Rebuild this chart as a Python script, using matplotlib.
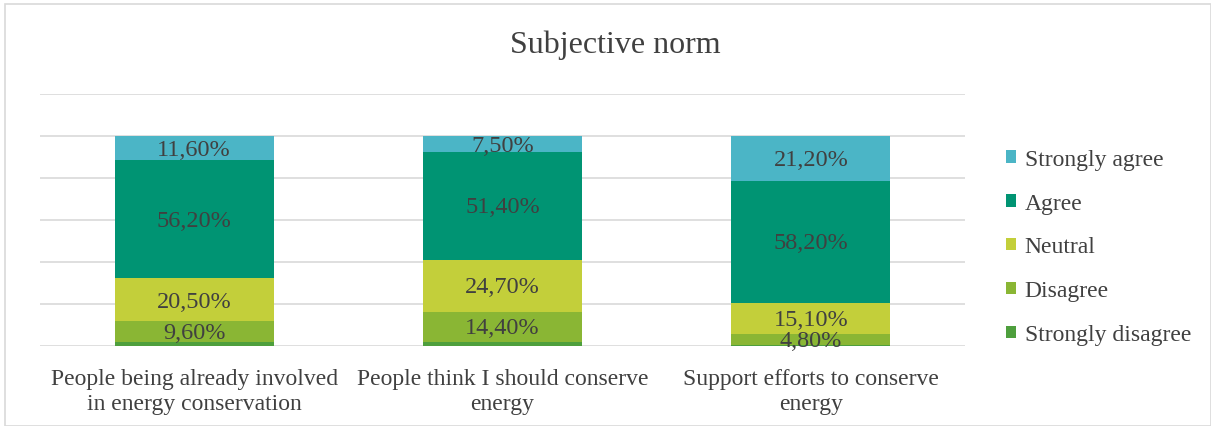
import matplotlib
matplotlib.use("Agg")
import matplotlib.pyplot as plt
from matplotlib.patches import Rectangle
import numpy as np

plt.rcParams['font.family'] = ['Liberation Serif', 'DejaVu Serif']

categories = ["People being already involved\nin energy conservation",
              "People think I should conserve\nenergy",
              "Support efforts to conserve\nenergy"]
series_names = ["Strongly disagree", "Disagree", "Neutral", "Agree", "Strongly agree"]
strongly_disagree = [2.1, 2.0, 0.7]
disagree = [9.6, 14.4, 4.8]
neutral = [20.5, 24.7, 15.1]
agree = [56.2, 51.4, 58.2]
strongly_agree = [11.6, 7.5, 21.2]
colors = ["#4E9F3D", "#8AB634", "#C3CF3A", "#009473", "#4BB5C6"]
show_labels = [False, True, True, True, True]

series = [strongly_disagree, disagree, neutral, agree, strongly_agree]

fig = plt.figure(figsize=(12.11, 4.27), dpi=100)
fig.patches.append(Rectangle((5 / 1211, 0), 1 - 5 / 1211, 1 - 5 / 427, transform=fig.transFigure,
                             fill=False, edgecolor="#D9D9D9", linewidth=1.2))
ax = fig.add_axes([40 / 1211, 1 - 347 / 427, 925 / 1211, 252 / 427])

x = np.arange(len(categories))
bottom = np.zeros(len(categories))
handles = []
for name, vals, col, lab in zip(series_names, series, colors, show_labels):
    vals = np.array(vals)
    bars = ax.bar(x, vals, 0.515, bottom=bottom, color=col, label=name, zorder=2)
    handles.append(bars)
    if lab:
        for xi, b, v in zip(x, bottom, vals):
            ax.text(xi, b + v / 2 - 0.6, f"{v:.2f}%".replace(".", ","), ha="center", va="center",
                    fontsize=17.5, color="#404040", zorder=3)
    bottom += vals

ax.set_xlim(-0.5, 2.5)
ax.set_ylim(0, 120)
ax.set_yticks(np.arange(0, 121, 20))
ax.yaxis.grid(True, color="#D9D9D9", linewidth=1.2, zorder=0)
ax.tick_params(axis="y", left=False, labelleft=False)
ax.tick_params(axis="x", bottom=False, labelsize=17, labelcolor="#404040", pad=12)
ax.set_xticks(x)
ax.set_xticklabels(categories, linespacing=1.3)
for s in ax.spines.values():
    s.set_visible(False)

fig.text(615 / 1211, 1 - 45 / 427, "Subjective norm", ha="center", va="center",
         fontsize=23, color="#404040")

leg = fig.legend(handles[::-1], series_names[::-1], loc="center left",
                 bbox_to_anchor=(994 / 1211, 1 - 248 / 427), frameon=False,
                 fontsize=17, handlelength=0.45, handleheight=0.45, handletextpad=0.35,
                 labelspacing=0.97, labelcolor="#404040", borderpad=0)

fig.savefig("out.png", dpi=100, facecolor="white")
